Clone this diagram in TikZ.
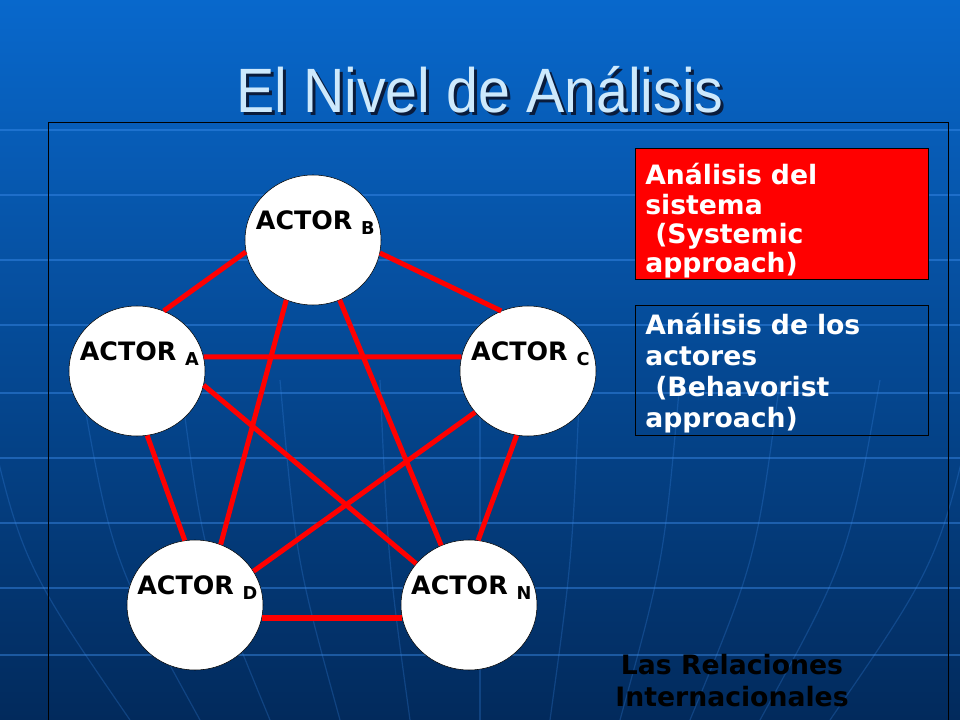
\documentclass[tikz,border=0pt]{standalone}
\usepackage{fontspec}
\usepackage{tikz}
\usetikzlibrary{shapes.geometric, positioning}
\newfontfamily\titlefont[FakeStretch=0.915]{Liberation Sans}
\newfontfamily\vfont{DejaVu Sans}
\definecolor{slidetop}{RGB}{8,104,204}
\definecolor{slidemid}{RGB}{6,72,152}
\definecolor{slidebot}{RGB}{2,42,92}
\definecolor{gridblue}{RGB}{60,140,235}
\definecolor{titleblue}{RGB}{205,233,252}
\definecolor{shadowblue}{RGB}{10,28,60}
\newcommand{\actorname}[1]{ACTOR \textsubscript{#1}}
\tikzset{
  actor/.style={ellipse, draw=black, fill=white, minimum width=102pt, minimum height=97.5pt, inner sep=0pt},
  alabel/.style={font=\vfont\bfseries\fontsize{19pt}{23pt}\selectfont, yshift=13pt, xshift=2pt, inner sep=0pt},
  tie/.style={draw=red, line width=3.75pt},
  approachbox/.style={rectangle, draw=black, anchor=north west, text=white, align=left, inner xsep=7.5pt, inner ysep=0pt, text width=204.75pt, minimum width=219.75pt},
  gridline/.style={draw=gridblue, opacity=0.45, line width=1.2pt},
  meridian/.style={draw=gridblue, opacity=0.25, line width=0.9pt},
  slidetitle/.style={anchor=base, inner sep=0pt, font=\titlefont\fontsize{47pt}{54pt}\selectfont}
}

\begin{document}
\begin{tikzpicture}[x=0.75pt, y=-0.75pt]
  \useasboundingbox (0,0) rectangle (960,720);
  \shade[top color=slidetop, middle color=slidemid, bottom color=slidebot] (0,0) rectangle (960,720);
  \foreach \gy in {130,195,260,325,393,458,523,588,655}
    \draw[gridline] (0,\gy) -- (960,\gy);
  \foreach \k in {-5,...,5}
    \draw[meridian] ({480+\k*100},380) .. controls ({480+\k*92},560) .. ({480+\k*70},720);

  \node[slidetitle, text=shadowblue] (titleshadow) at (483,116) {El Nivel de Análisis};
  \node[slidetitle, text=titleblue] (title) at (480,113) {El Nivel de Análisis};

  \draw[black, line width=0.75pt] (48,720) -- (48,123) -- (948,123) -- (948,720);

  \node[actor, label={[alabel]center:\actorname{A}}] (A) at (137,371) {};
  \node[actor, label={[alabel]center:\actorname{B}}] (B) at (313,240) {};
  \node[actor, label={[alabel]center:\actorname{C}}] (C) at (528,371) {};
  \node[actor, label={[alabel]center:\actorname{D}}] (D) at (195,605) {};
  \node[actor, label={[alabel]center:\actorname{N}}] (N) at (469,605) {};

  \path[tie]
    (A.66) -- (B.190)
    (B.349) -- (C.114)
    (B.246) -- (D.67)
    (B.294) -- (N.115)
    (A.12) -- (C.168)
    (A.348) -- (N.142)
    (C.218) -- (D.30)
    (A.279) -- (D.99)
    (C.260) -- (N.82);
  \draw[red, line width=5pt] (D.349) -- (N.191);

  \node[approachbox, fill=red, minimum height=98.25pt, font=\vfont\bfseries\fontsize{20pt}{22pt}\selectfont] (sistema) at (635,148)
    {\rule{0pt}{27pt}Análisis del\\sistema\\\hspace*{7.5pt}(Systemic\\approach)};
  \node[approachbox, minimum height=97.5pt, font=\vfont\bfseries\fontsize{20pt}{23.25pt}\selectfont] (actores) at (635,305)
    {\rule{0pt}{21pt}Análisis de los\\actores\\\hspace*{7.5pt}(Behavorist\\approach)};

  \node[align=center, inner sep=0pt, text=black, font=\vfont\bfseries\fontsize{20pt}{24pt}\selectfont] (relaciones) at (732,681)
    {Las Relaciones\\Internacionales};
\end{tikzpicture}
\end{document}
